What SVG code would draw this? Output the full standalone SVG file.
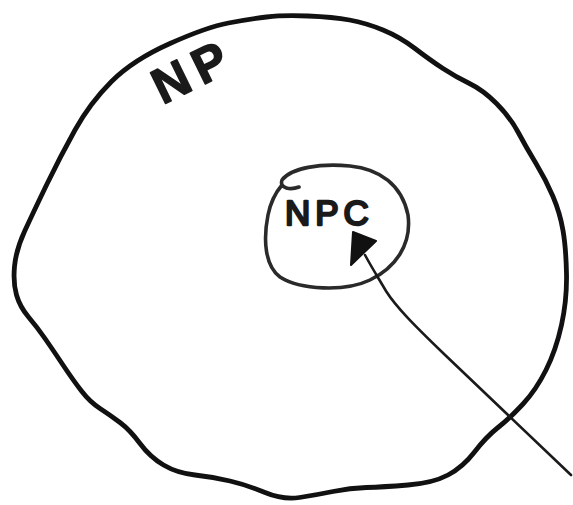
<svg xmlns="http://www.w3.org/2000/svg" width="573" height="505" viewBox="0 0 573 505">
<style>
.outer{fill:none;stroke:#111;stroke-width:4.8;stroke-linecap:round;stroke-linejoin:round}
.inner{fill:none;stroke:#2a2a2a;stroke-width:3.6;stroke-linecap:round;stroke-linejoin:round}
.conn{fill:none;stroke:#1a1a1a;stroke-width:2.6;stroke-linecap:round;stroke-linejoin:round}
.head{fill:#111;stroke:#111;stroke-width:2;stroke-linejoin:round}
.lbl{font-family:"Liberation Sans",Arial,sans-serif;fill:#1a1a1a;stroke:#1a1a1a;stroke-linejoin:round}
</style>
<rect width="573" height="505" fill="#fff"/>
<g id="np">
<path class="outer" d="M266.5,17 Q283,15 308,16 Q333,17 349.5,20 Q366,23 383,30 Q400,37 415,48.5 Q430,60 443,68.5 Q456,77 469.5,83.5 Q483,90 496.5,103.5 Q510,117 518,132 Q526,147 536,163.5 Q546,180 553,196.5 Q560,213 563,230.5 Q566,248 566.5,274 Q567,300 561.5,325 Q556,350 546,370 Q536,390 523,404 Q510,418 498,427.5 Q486,437 474.5,452 Q463,467 448,475 Q433,483 408,485 Q383,487 366.5,487.5 Q350,488 333,491.5 Q316,495 299.5,497.5 Q283,500 265,492.5 Q247,485 230,481 Q213,477 195,475 Q177,473 163.5,465 Q150,457 140,443.5 Q130,430 120,422.5 Q110,415 100,408.5 Q90,402 81.5,391 Q73,380 63,365 Q53,350 45,338.5 Q37,327 28.5,317 Q20,307 16.5,295 Q13,283 14.5,266.5 Q16,250 24.5,231.5 Q33,213 46.5,185 Q60,157 75,130 Q90,103 111.5,81.5 Q133,60 170,43.5 Q207,27 228.5,23 Q250,19 266.5,17 Z"/>
<text class="lbl" x="193" y="88" font-size="50" font-weight="bold" stroke-width="1.5" letter-spacing="8" text-anchor="middle" transform="rotate(-26 193 70)">NP</text>
</g>
<g id="npc">
<path class="inner" d="M299,187 C291,190 279,189 282,180 C291,168 320,163 350,166 C380,169 402,185 408,215 C412,245 395,268 370,280 C345,292 300,290 280,277 C265,266 263,240 268,215 C271,200 276,192 282,185"/>
<text class="lbl" x="285" y="225" font-size="35" stroke-width="2.4" letter-spacing="5">NPC</text>
</g>
<g id="connectors">
<path class="conn" d="M571,475 L443,353 C415,326 396,307 386,291 C379,279 372,268 365,255"/>
<polygon class="head" points="353,232 376,241 351,265"/>
</g>
</svg>
